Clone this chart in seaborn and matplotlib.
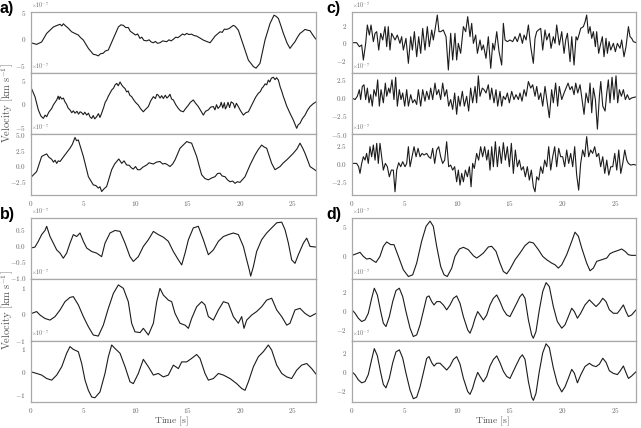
import matplotlib
matplotlib.use("Agg")
import numpy as np
import pandas as pd
import matplotlib.pyplot as plt
import seaborn as sns

# traces: (time [s], velocity [x1e-7 km/s])
SCALE = 1e-7

A1 = [(0.00, -0.75), (0.54, -1.05), (1.02, -0.6), (1.50, 1.0), (2.14, 2.2), (2.50, 2.5),
      (2.78, 2.7), (2.95, 2.4), (3.10, 2.8), (3.25, 2.5), (3.55, 2.0), (3.89, 1.3),
      (4.20, 1.0), (4.53, 0.7), (4.70, 0.3), (5.01, -0.25), (5.49, -1.8), (5.96, -2.9),
      (6.20, -3.0), (6.44, -3.2), (6.65, -2.8), (6.92, -2.7), (7.10, -2.3), (7.40, -2.1),
      (7.88, 0.06), (8.36, 2.2), (8.60, 2.6), (8.84, 2.5), (9.05, 2.1), (9.31, 2.1),
      (9.50, 1.4), (9.79, 1.0), (10.00, 0.7), (10.20, 0.9), (10.43, 0.06), (10.60, 0.3),
      (10.80, -0.3), (11.07, -0.4), (11.30, -0.2), (11.50, -0.6), (11.71, -0.75), (11.90, -0.5),
      (12.10, -0.85), (12.34, -0.75), (12.60, -0.4), (12.98, -0.55), (13.20, -0.2), (13.40, -0.4),
      (13.62, -0.1), (13.85, 0.3), (14.05, 0.2), (14.26, 0.5), (14.50, 0.9), (14.70, 0.7),
      (14.90, 1.0), (15.10, 0.8), (15.37, 0.85), (15.60, 0.6), (15.85, 0.5), (16.20, 0.1),
      (16.49, -0.25), (16.80, -0.5), (17.13, -0.75), (17.35, -0.2), (17.61, 0.5), (18.09, 1.3),
      (18.30, 1.2), (18.50, 1.8), (18.72, 1.75), (18.95, 1.9), (19.15, 2.2), (19.36, 2.5),
      (19.55, 2.3), (19.84, 1.6), (20.32, -1.2), (20.80, -4.0), (21.28, -5.2), (21.53, -5.5),
      (21.91, -4.6), (22.39, -0.25), (22.87, 2.85), (23.25, 4.4), (23.45, 4.2), (23.67, 3.8),
      (23.90, 2.5), (24.15, 1.0), (24.50, -0.8), (24.78, -1.8), (25.00, -1.2), (25.26, -0.55),
      (25.50, 0.3), (25.74, 1.0), (25.95, 1.3), (26.22, 1.75), (26.45, 1.6), (26.70, 1.5),
      (27.00, 0.6), (27.27, -0.1)]

A2 = [(0.00, 3.45), (0.38, 1.5), (0.70, -1.3), (0.95, -2.6), (1.18, -3.1), (1.35, -2.4),
      (1.50, -2.75), (1.70, -1.8), (1.98, -1.0), (2.15, -0.2), (2.30, 0.3), (2.46, 0.8),
      (2.60, 1.6), (2.70, 0.9), (2.78, 1.5), (2.95, 1.0), (3.10, 1.2), (3.25, 0.4),
      (3.40, -0.1), (3.55, -0.9), (3.73, -1.3), (3.90, -1.9), (4.05, -1.5), (4.21, -2.0),
      (4.40, -1.6), (4.55, -2.2), (4.70, -1.7), (4.85, -1.9), (5.00, -2.3), (5.15, -1.8),
      (5.33, -2.4), (5.50, -2.0), (5.65, -2.8), (5.81, -3.1), (5.95, -2.5), (6.10, -3.2),
      (6.28, -2.75), (6.45, -2.1), (6.60, -2.9), (6.76, -2.0), (6.95, -0.8), (7.10, 0.3),
      (7.24, 0.8), (7.40, 1.6), (7.55, 2.2), (7.72, 2.9), (7.90, 3.3), (8.05, 4.0),
      (8.20, 4.3), (8.35, 3.8), (8.52, 4.6), (8.70, 3.9), (8.85, 3.5), (9.00, 3.2),
      (9.15, 2.5), (9.30, 2.7), (9.45, 1.8), (9.63, 1.5), (9.80, 0.9), (10.00, 0.3),
      (10.27, -0.3), (10.50, -1.1), (10.75, -1.7), (10.95, -1.2), (11.23, -0.6), (11.45, 0.6),
      (11.71, 1.5), (11.90, 1.1), (12.05, 2.0), (12.18, 1.8), (12.35, 1.2), (12.50, 1.7),
      (12.66, 1.1), (12.85, 1.8), (13.00, 1.2), (13.14, 1.5), (13.30, 2.0), (13.45, 1.0),
      (13.62, 0.8), (13.85, -0.2), (14.10, -1.0), (14.30, -1.5), (14.58, -1.7), (14.80, -1.0),
      (15.06, -0.3), (15.25, 0.3), (15.53, 0.8), (15.75, 0.1), (16.01, -0.6), (16.25, -1.5),
      (16.49, -2.4), (16.70, -1.6), (16.97, -1.3), (17.20, -0.7), (17.45, -0.6), (17.60, -1.3),
      (17.75, -0.2), (17.90, -1.0), (18.09, -0.5), (18.20, 0.3), (18.35, -0.9), (18.50, 0.2),
      (18.60, -1.1), (18.72, -0.6), (18.85, 0.3), (19.00, -0.8), (19.15, 0.4), (19.36, 0.07),
      (19.50, -0.9), (19.65, 0.1), (19.84, -0.6), (20.05, -1.5), (20.32, -2.4), (20.55, -1.9),
      (20.80, -1.7), (21.05, -0.6), (21.28, 0.4), (21.50, 1.4), (21.75, 2.2), (21.95, 2.6),
      (22.10, 3.3), (22.23, 3.6), (22.40, 4.2), (22.55, 4.0), (22.71, 5.0), (22.85, 4.6),
      (23.00, 5.4), (23.19, 5.6), (23.35, 5.1), (23.50, 5.5), (23.67, 5.0), (23.85, 3.5),
      (24.00, 2.6), (24.15, 1.5), (24.30, 0.6), (24.45, -0.4), (24.63, -1.3), (24.80, -2.1),
      (24.95, -2.8), (25.10, -3.45), (25.25, -4.3), (25.42, -5.2), (25.55, -4.5), (25.74, -4.15),
      (25.95, -3.2), (26.22, -2.4), (26.45, -1.4), (26.70, -0.6), (27.00, 0.0), (27.27, 0.4)]

A3 = [(0.00, -1.8), (0.54, -0.9), (1.02, 1.5), (1.25, 1.7), (1.50, 1.9), (1.70, 1.4),
      (1.98, 1.05), (2.15, 0.6), (2.30, 0.9), (2.46, 0.4), (2.60, 0.8), (2.78, 0.7),
      (3.00, 1.2), (3.25, 1.75), (3.50, 2.3), (3.73, 2.8), (3.95, 3.4), (4.21, 4.5),
      (4.35, 4.0), (4.53, 4.1), (5.01, 1.5), (5.49, -1.7), (5.96, -3.0), (6.20, -3.1),
      (6.44, -3.5), (6.60, -3.3), (6.76, -4.05), (7.00, -3.6), (7.24, -3.25), (7.72, -0.6),
      (8.00, 0.3), (8.20, 0.7), (8.40, 1.1), (8.68, 0.4), (8.90, 0.8), (9.15, 0.15),
      (9.40, 0.1), (9.60, -0.3), (9.79, -0.5), (10.00, -0.1), (10.20, -0.6), (10.43, -0.6),
      (10.70, -0.2), (11.07, 0.15), (11.30, 0.5), (11.71, 0.3), (12.00, 0.6), (12.34, 0.7),
      (12.60, 0.3), (12.82, 0.4), (13.05, 0.2), (13.30, -0.1), (13.55, 0.3), (13.78, 0.95),
      (14.26, 2.8), (14.90, 3.85), (15.15, 3.7), (15.37, 3.6), (15.85, 1.5), (16.33, -1.4),
      (16.65, -2.0), (16.97, -2.2), (17.30, -1.9), (17.61, -1.7), (17.85, -1.2), (18.09, -1.15),
      (18.30, -1.6), (18.56, -1.7), (18.80, -2.2), (19.04, -2.5), (19.30, -2.4), (19.52, -2.75),
      (19.75, -2.5), (20.00, -2.6), (20.48, -1.7), (20.96, 0.15), (21.44, 1.75), (21.75, 2.6),
      (22.07, 3.3), (22.30, 3.0), (22.55, 2.8), (23.03, 0.4), (23.35, -0.6), (23.83, -0.1),
      (24.15, 0.5), (24.47, 0.95), (24.80, 1.5), (25.10, 2.0), (25.45, 2.7), (25.74, 3.6),
      (26.00, 2.8), (26.22, 2.0), (26.70, -0.1), (27.27, -0.75)]

B1 = [(0.00, -0.07), (0.38, -0.04), (0.70, 0.14), (1.02, 0.35), (1.34, 0.48), (1.50, 0.61),
      (1.82, 0.29), (2.14, 0.08), (2.46, -0.13), (2.78, -0.23), (3.09, -0.39), (3.41, -0.23),
      (3.73, 0.08), (4.05, 0.35), (4.37, 0.29), (4.69, 0.40), (5.01, 0.14), (5.33, -0.07),
      (5.81, -0.18), (6.28, -0.23), (6.76, -0.34), (7.08, 0.08), (7.56, 0.40), (8.04, 0.48),
      (8.52, 0.45), (9.00, 0.08), (9.47, -0.34), (9.79, -0.49), (10.27, -0.34), (10.75, -0.02),
      (11.23, 0.19), (11.71, 0.45), (12.18, 0.35), (12.66, 0.27), (13.14, 0.14), (13.62, -0.18),
      (14.10, -0.44), (14.42, -0.60), (14.74, -0.23), (15.06, 0.19), (15.53, 0.56), (16.01, 0.61),
      (16.49, 0.19), (16.97, -0.28), (17.45, -0.13), (17.93, 0.14), (18.41, 0.29), (18.88, 0.35),
      (19.36, 0.40), (19.84, 0.35), (20.32, -0.02), (20.64, -0.44), (20.89, -0.76), (21.02, -0.95),
      (21.28, -0.65), (21.59, -0.18), (22.07, 0.19), (22.55, 0.40), (23.03, 0.56), (23.51, 0.72),
      (23.99, 0.74), (24.31, 0.50), (24.63, 0.08), (24.94, -0.44), (25.26, -0.55), (25.58, -0.28),
      (26.06, 0.08), (26.38, 0.24), (26.70, -0.02), (27.27, -0.04)]

B2 = [(0.00, 0.00), (0.54, 0.08), (0.86, -0.05), (1.34, -0.18), (1.82, -0.24), (2.30, -0.11),
      (2.78, 0.14), (3.25, 0.45), (3.73, 0.61), (4.05, 0.64), (4.53, 0.33), (5.01, -0.11),
      (5.49, -0.49), (5.96, -0.80), (6.44, -0.84), (6.92, -0.43), (7.40, 0.20), (7.88, 0.76),
      (8.36, 1.08), (8.84, 0.95), (9.31, 0.45), (9.63, -0.36), (9.95, -0.68), (10.43, -0.71),
      (10.75, -0.55), (11.23, -0.80), (11.71, -0.36), (12.03, 0.45), (12.34, 0.95), (12.66, 0.70),
      (13.14, 0.51), (13.46, 0.45), (13.78, 0.01), (14.26, -0.36), (14.74, -0.43), (15.06, -0.55),
      (15.37, -0.18), (15.85, 0.26), (16.33, 0.45), (16.65, 0.33), (16.97, -0.11), (17.45, -0.24),
      (17.93, 0.14), (18.41, 0.45), (18.88, 0.39), (19.36, -0.11), (19.84, -0.36), (20.16, -0.11),
      (20.38, -0.55), (20.64, -0.24), (21.12, -0.05), (21.59, 0.08), (22.07, 0.26), (22.55, 0.51),
      (23.03, 0.58), (23.51, 0.14), (23.99, -0.11), (24.47, -0.43), (24.78, -0.36), (25.26, 0.14),
      (25.74, 0.20), (26.22, 0.01), (26.70, -0.11), (27.27, 0.01)]

B3 = [(0.00, 0.00), (0.54, -0.07), (1.02, -0.14), (1.50, -0.29), (1.98, -0.36), (2.46, -0.14),
      (2.94, 0.22), (3.41, 0.80), (3.73, 1.09), (4.05, 0.97), (4.53, 0.87), (4.85, 0.36),
      (5.17, -0.36), (5.49, -0.80), (5.81, -1.09), (6.12, -1.12), (6.60, -0.87), (7.08, -0.07),
      (7.40, 0.65), (7.72, 1.16), (8.04, 1.01), (8.52, 0.80), (9.00, 0.22), (9.47, -0.43),
      (9.79, -0.51), (10.27, -0.07), (10.75, 0.54), (11.23, 0.22), (11.71, -0.14), (12.18, -0.07),
      (12.66, -0.22), (13.14, -0.14), (13.62, 0.29), (14.10, 0.14), (14.42, 0.43), (14.90, 0.43),
      (15.37, 0.58), (15.85, 0.75), (16.17, 0.58), (16.65, -0.07), (16.97, -0.36), (17.45, -0.29),
      (17.93, -0.07), (18.41, -0.14), (19.04, -0.29), (19.68, -0.51), (20.16, -0.72), (20.48, -0.80),
      (20.80, -0.43), (21.28, 0.22), (21.75, 0.65), (22.23, 0.87), (22.71, 1.16), (23.03, 0.94),
      (23.51, 0.29), (23.99, -0.07), (24.47, -0.22), (24.94, -0.29), (25.42, 0.07), (25.90, 0.29),
      (26.38, 0.36), (26.86, 0.14), (27.27, -0.10)]

C1 = [(0.00, 0.00), (0.44, 0.00), (0.70, -0.46), (0.92, -0.27), (1.08, -2.00), (1.30, -0.08),
      (1.46, 2.04), (1.65, 0.88), (1.81, 2.04), (2.03, 0.12), (2.19, 1.08), (2.35, 1.27),
      (2.54, -0.85), (2.73, 1.08), (2.92, 0.31), (3.14, 1.85), (3.30, -0.46), (3.45, 1.85),
      (3.61, -0.85), (3.77, 1.08), (3.93, 0.69), (4.09, 0.31), (4.31, 0.88), (4.56, -0.08),
      (4.72, 0.69), (4.88, -0.85), (5.13, 0.50), (5.36, -2.38), (5.58, 0.69), (5.74, -0.85),
      (5.93, 1.27), (6.15, -1.62), (6.34, 0.69), (6.53, -1.23), (6.72, 1.65), (6.94, -0.85),
      (7.16, 1.85), (7.35, -0.46), (7.58, 1.46), (7.73, 0.31), (7.89, 1.46), (8.11, 3.19),
      (8.27, 1.27), (8.43, 1.27), (8.68, 1.46), (8.94, 0.69), (9.16, -3.15), (9.38, 1.08),
      (9.57, -2.00), (9.79, 1.08), (9.95, -2.00), (10.11, -0.08), (10.33, -1.23), (10.59, 1.85),
      (10.81, 1.27), (11.00, 3.00), (11.22, 0.69), (11.38, 2.23), (11.54, -0.08), (11.76, 0.88),
      (11.92, -1.23), (12.17, 0.31), (12.33, -0.85), (12.49, -0.27), (12.74, -1.81), (12.96, 0.69),
      (13.19, -2.96), (13.38, -0.08), (13.53, -0.85), (13.76, 1.27), (13.98, -1.04), (14.23, -2.58),
      (14.39, 2.23), (14.55, 0.31), (14.77, 0.12), (15.02, 0.31), (15.28, 0.12), (15.50, 0.69),
      (15.72, 0.12), (15.97, 1.08), (16.20, -0.08), (16.36, 0.88), (16.55, 0.31), (16.77, 2.04),
      (16.99, -0.46), (17.24, -2.38), (17.40, 0.50), (17.56, 1.27), (17.72, 1.46), (17.94, 1.65),
      (18.13, -0.85), (18.35, 1.46), (18.51, 0.31), (18.76, 1.08), (18.92, -0.65), (19.14, 0.69),
      (19.30, -0.08), (19.46, 2.04), (19.71, -0.27), (19.94, 1.27), (20.16, -1.23), (20.32, 0.31),
      (20.48, 1.08), (20.73, -2.19), (20.89, 0.69), (21.11, -2.58), (21.30, 0.69), (21.43, 0.31),
      (21.62, 1.08), (21.74, 1.65), (22.00, 1.85), (22.16, 2.42), (22.31, 3.19), (22.47, 1.08),
      (22.63, 1.85), (22.79, 0.50), (22.95, 1.27), (23.14, -0.46), (23.26, 1.27), (23.45, -1.23),
      (23.58, -0.46), (23.80, 0.69), (23.96, -1.62), (24.15, 0.50), (24.28, -1.23), (24.44, 0.12),
      (24.60, -0.85), (24.85, -0.08), (25.04, -1.04), (25.23, -0.08), (25.48, -0.65), (25.64, 0.31),
      (25.86, -1.62), (26.05, -0.46), (26.28, 1.85), (26.43, 0.69), (26.59, 0.50), (26.75, 0.12),
      (27.00, 0.00)]

C2 = [(0.00, 0.00), (0.29, -0.23), (0.51, 0.23), (0.70, 1.14), (0.82, -0.23), (0.98, 1.59),
      (1.14, 1.82), (1.30, -0.23), (1.46, 1.36), (1.62, -0.68), (1.77, 0.45), (1.93, -1.14),
      (2.09, 1.14), (2.28, 0.23), (2.44, 2.50), (2.60, -1.14), (2.76, 1.14), (2.98, -0.68),
      (3.17, 2.05), (3.30, 0.23), (3.49, 1.36), (3.61, 0.68), (3.80, 2.50), (3.99, -0.23),
      (4.15, 2.86), (4.31, -1.14), (4.50, 1.14), (4.66, -0.23), (4.82, 0.68), (5.01, -1.14),
      (5.20, 1.14), (5.36, -1.14), (5.58, 0.45), (5.77, -0.68), (5.96, -0.23), (6.15, -0.91),
      (6.31, 1.14), (6.53, -1.14), (6.72, 1.14), (6.94, -0.45), (7.10, 0.91), (7.32, -0.23),
      (7.48, 1.36), (7.67, -0.23), (7.89, 2.05), (8.05, 0.45), (8.24, 1.14), (8.43, -0.23),
      (8.62, 2.05), (8.81, 0.23), (9.00, 1.14), (9.19, -1.14), (9.38, -0.23), (9.57, -1.59),
      (9.76, 0.68), (9.95, -2.27), (10.11, 0.23), (10.27, -1.14), (10.49, 0.91), (10.68, -1.14),
      (10.90, 0.23), (11.09, -1.82), (11.28, 1.36), (11.47, -0.68), (11.70, 1.59), (11.85, -0.68),
      (12.01, 3.05), (12.17, 0.23), (12.39, 1.36), (12.55, 1.14), (12.74, 0.68), (12.96, 1.82),
      (13.12, -0.23), (13.28, 1.36), (13.50, -0.68), (13.69, 1.14), (13.85, -1.14), (14.07, 0.91),
      (14.23, -1.14), (14.39, 0.23), (14.58, -0.23), (14.77, 0.68), (14.96, -0.68), (15.18, 0.91),
      (15.40, -0.23), (15.59, 0.45), (15.82, -0.23), (15.97, 0.68), (16.16, -0.45), (16.36, 1.14),
      (16.55, 0.23), (16.77, 2.27), (16.99, 1.36), (17.18, 1.82), (17.40, 0.23), (17.56, 1.59),
      (17.75, -0.23), (17.94, 0.68), (18.13, -1.14), (18.35, 1.59), (18.57, -0.68), (18.76, -2.73),
      (18.98, 1.14), (19.14, -0.68), (19.36, 2.05), (19.55, -1.14), (19.71, 1.59), (19.94, -0.23),
      (20.16, 0.68), (20.35, 1.36), (20.54, 2.05), (20.73, 1.14), (20.92, 1.59), (21.11, 0.45),
      (21.27, 2.05), (21.46, 0.68), (21.68, 1.82), (21.87, -0.23), (22.06, -2.27), (22.25, 0.68),
      (22.47, -0.68), (22.63, 2.05), (22.79, -2.05), (22.95, 1.36), (23.14, -0.23), (23.33, -4.32),
      (23.52, 0.23), (23.65, 2.27), (23.84, -1.14), (24.06, -1.82), (24.22, 0.68), (24.37, 2.50),
      (24.53, -0.68), (24.72, 2.86), (24.91, -0.23), (25.10, 3.05), (25.26, -0.68), (25.42, 1.14),
      (25.61, 0.23), (25.80, 1.14), (25.99, -0.23), (26.18, 0.45), (26.37, -0.23), (26.59, 0.00),
      (27.00, 0.14)]

C3 = [(0.00, 0.00), (0.44, 0.00), (0.63, -0.45), (0.76, -1.36), (0.92, 0.00), (1.08, 0.91),
      (1.24, 0.45), (1.39, 1.36), (1.55, 0.00), (1.71, 2.27), (1.87, 0.91), (2.03, 2.50),
      (2.19, 0.45), (2.35, 2.73), (2.50, 0.00), (2.66, 2.73), (2.82, 0.91), (2.98, -0.91),
      (3.17, 0.00), (3.36, -0.45), (3.55, -1.82), (3.74, -0.91), (3.93, -0.91), (4.09, -3.86),
      (4.25, -0.91), (4.44, 0.09), (4.63, -0.45), (4.82, 0.23), (5.04, -0.45), (5.20, 0.00),
      (5.36, 2.27), (5.52, -0.45), (5.71, 0.91), (5.90, 2.27), (6.09, 0.91), (6.28, 2.05),
      (6.47, 0.91), (6.66, 1.36), (6.85, 1.14), (7.10, 1.36), (7.29, 0.91), (7.48, 0.68),
      (7.67, 2.05), (7.86, 0.00), (8.05, 1.82), (8.24, 2.27), (8.43, 0.91), (8.62, 0.00),
      (8.81, 0.45), (9.00, 2.95), (9.19, -0.45), (9.38, -0.23), (9.57, -0.91), (9.76, -0.45),
      (9.95, -2.50), (10.11, -0.91), (10.27, -2.95), (10.43, -1.36), (10.59, -2.50), (10.78, -0.91),
      (10.97, -1.82), (11.16, -0.45), (11.32, -3.18), (11.47, 0.00), (11.63, -0.68), (11.85, 1.36),
      (12.04, 0.45), (12.23, 2.27), (12.42, 0.91), (12.61, 2.27), (12.81, 0.45), (12.96, 1.82),
      (13.12, -0.91), (13.28, 2.27), (13.44, -0.45), (13.63, 2.95), (13.82, -0.45), (14.01, 2.27),
      (14.20, 0.00), (14.39, 2.82), (14.58, 0.45), (14.77, 2.27), (14.96, -0.45), (15.15, 2.73),
      (15.34, -1.36), (15.53, 1.82), (15.72, -0.45), (15.91, 0.45), (16.10, -0.91), (16.29, -0.45),
      (16.48, -1.82), (16.67, -0.45), (16.86, -2.27), (17.05, -0.91), (17.24, -3.18), (17.40, -3.86),
      (17.56, -1.82), (17.75, -2.27), (17.94, -0.45), (18.13, -1.36), (18.32, 0.45), (18.51, -0.45),
      (18.70, 2.27), (18.89, -0.91), (19.08, 0.91), (19.27, 2.27), (19.46, -0.45), (19.65, 2.05),
      (19.84, 0.91), (20.03, 0.91), (20.22, -0.45), (20.41, 1.82), (20.60, 0.00), (20.79, 1.36),
      (20.98, -0.45), (21.17, 2.27), (21.36, -1.59), (21.55, -3.64), (21.74, 0.00), (21.93, 1.82),
      (22.12, 0.91), (22.31, 3.64), (22.50, 0.91), (22.69, 1.82), (22.88, 1.36), (23.07, 2.27),
      (23.26, 0.91), (23.45, 1.36), (23.64, -0.45), (23.84, 0.91), (24.03, -1.36), (24.22, 0.45),
      (24.41, -1.59), (24.60, -0.45), (24.79, -0.45), (24.98, 1.36), (25.17, -0.91), (25.36, 1.82),
      (25.55, -1.36), (25.74, 0.00), (25.93, 1.82), (26.12, 0.45), (26.28, 0.00), (26.50, -0.23),
      (26.75, -0.14), (27.00, -0.23)]

D1 = [(0.00, 0.00), (0.44, 0.29), (0.76, 0.52), (1.08, -0.17), (1.39, -0.63), (1.71, -0.52),
      (1.97, -0.86), (2.28, -1.21), (2.66, -0.17), (2.98, 1.55), (3.30, 2.30), (3.68, 1.84),
      (3.99, 1.84), (4.41, -0.17), (4.88, -2.47), (5.36, -3.62), (5.77, -3.33), (6.15, -1.32),
      (6.62, 2.41), (7.04, 4.97), (7.42, 5.86), (7.73, 4.97), (8.05, 1.55), (8.43, -1.90),
      (8.75, -3.33), (9.06, -3.62), (9.48, -2.18), (9.79, -0.17), (10.21, 1.09), (10.59, 1.38),
      (11.06, 0.98), (11.54, -0.06), (11.85, -0.46), (12.17, -0.06), (12.49, 0.40), (12.96, 1.44),
      (13.28, 1.55), (13.69, 0.69), (14.07, -1.32), (14.39, -2.76), (14.71, -3.16), (15.02, -2.36),
      (15.50, -0.75), (15.97, 0.40), (16.45, 1.67), (16.86, 2.30), (17.24, 2.13), (17.72, 0.98),
      (18.13, -0.17), (18.51, -0.75), (18.98, -1.32), (19.30, -1.61), (19.62, -2.18), (19.94, -1.61),
      (20.41, 0.11), (20.89, 2.41), (21.20, 3.97), (21.52, 3.28), (21.84, 1.26), (22.31, -1.32),
      (22.63, -2.64), (22.95, -2.18), (23.26, -1.03), (23.74, -0.75), (24.22, -0.46), (24.53, 0.29),
      (24.85, 0.57), (25.32, 0.86), (25.64, 1.09), (25.96, 0.69), (26.28, 0.11), (26.59, 0.00),
      (27.00, 0.00)]

D2 = [(0.00, 0.04), (0.29, -0.32), (0.60, -0.84), (0.92, -1.19), (1.24, -1.02), (1.55, -0.32),
      (1.87, 1.26), (2.12, 2.32), (2.41, 1.61), (2.73, -0.14), (2.98, -1.37), (3.23, -1.72),
      (3.55, -0.67), (3.87, 0.91), (4.18, 2.07), (4.50, 2.32), (4.82, 1.44), (5.13, -0.14),
      (5.52, -1.89), (5.83, -2.77), (6.15, -2.60), (6.47, -1.54), (6.85, 0.21), (7.10, 1.37),
      (7.32, 1.51), (7.58, 0.91), (7.80, 0.56), (8.05, 0.91), (8.37, 0.91), (8.68, 0.56),
      (9.00, 0.04), (9.32, 0.56), (9.64, 1.26), (9.95, 1.51), (10.27, 0.74), (10.59, -0.67),
      (11.00, -2.07), (11.22, -2.42), (11.47, -1.72), (11.70, -0.84), (11.95, -0.14), (12.17, -0.49),
      (12.49, -1.02), (12.81, -0.49), (13.12, 0.56), (13.44, 1.26), (13.76, 1.61), (14.07, 0.91),
      (14.39, 0.04), (14.71, -0.49), (15.02, -0.67), (15.34, 0.04), (15.66, 0.74), (15.97, 1.44),
      (16.20, 1.72), (16.45, 1.26), (16.77, -1.02), (17.08, -2.60), (17.24, -2.95), (17.49, -2.25),
      (17.81, 0.04), (18.13, 1.96), (18.45, 2.91), (18.76, 2.49), (19.14, 0.39), (19.52, -1.19),
      (19.94, -1.89), (20.25, -1.54), (20.57, -0.67), (20.89, 0.21), (21.14, -0.14), (21.43, -0.84),
      (21.74, -0.32), (22.15, 0.56), (22.57, 1.09), (22.88, 0.74), (23.20, 0.39), (23.52, 0.74),
      (23.84, 1.26), (24.15, 0.91), (24.47, 0.04), (24.85, -0.32), (25.23, -0.32), (25.48, 0.04),
      (25.80, 0.56), (26.05, -0.14), (26.28, -0.67), (26.59, -0.49), (27.00, 0.04)]

D3 = [(0.00, 0.00), (0.29, -0.32), (0.60, -0.86), (0.92, -1.18), (1.24, -1.05), (1.55, -0.30),
      (1.87, 1.30), (2.12, 2.45), (2.41, 1.70), (2.73, -0.10), (2.98, -1.35), (3.23, -1.71),
      (3.55, -0.70), (3.87, 0.95), (4.18, 2.10), (4.50, 2.32), (4.82, 1.45), (5.13, -0.15),
      (5.52, -1.95), (5.83, -2.86), (6.15, -2.70), (6.47, -1.60), (6.85, 0.20), (7.10, 1.40),
      (7.32, 1.61), (7.58, 0.95), (7.80, 0.60), (8.05, 0.90), (8.37, 0.90), (8.68, 0.55),
      (9.00, 0.18), (9.32, 0.60), (9.64, 1.30), (9.95, 1.60), (10.27, 0.80), (10.59, -0.70),
      (11.00, -2.10), (11.22, -2.40), (11.47, -1.75), (11.70, -0.85), (11.95, -0.07), (12.17, -0.50),
      (12.49, -1.07), (12.81, -0.50), (13.12, 0.60), (13.44, 1.30), (13.76, 1.68), (14.07, 0.95),
      (14.39, 0.05), (14.71, -0.50), (15.02, -0.71), (15.34, 0.05), (15.66, 0.80), (15.97, 1.50),
      (16.20, 1.79), (16.45, 1.30), (16.77, -1.05), (17.08, -2.70), (17.24, -3.04), (17.49, -2.30),
      (17.81, 0.05), (18.13, 2.00), (18.45, 2.96), (18.76, 2.55), (19.14, 0.40), (19.52, -1.25),
      (19.94, -2.14), (20.25, -1.60), (20.57, -0.70), (20.89, 0.25), (21.14, -0.15), (21.43, -1.18),
      (21.74, -0.35), (22.15, 0.55), (22.57, 0.89), (22.88, 0.65), (23.20, 0.54), (23.52, 0.80),
      (23.84, 1.43), (24.15, 1.00), (24.47, 0.10), (24.85, -0.18), (25.23, -0.30), (25.48, 0.05),
      (25.80, 0.61), (26.05, -0.10), (26.28, -0.71), (26.59, -0.45), (27.00, 0.00)]

# axis ranges and ticks (x1e-7) for each trace
YLIM = {
    "A1": (-6.4, 5.0), "A2": (-6.4, 6.5), "A3": (-4.6, 5.05),
    "B1": (-1.05, 0.87), "B2": (-1.01, 1.29), "B3": (-1.3, 1.35),
    "C1": (-3.5, 3.54), "C2": (-4.9, 3.45), "C3": (-4.3, 4.0),
    "D1": (-4.1, 6.4), "D2": (-3.2, 3.26), "D3": (-3.2, 3.3),
}
YTICKS = {
    "A1": [-5, 0, 5], "A2": [-5, 0, 5], "A3": [-2.5, 0, 2.5, 5],
    "B1": [-1, -0.5, 0, 0.5], "B2": [-1, 0, 1], "B3": [-1, 0, 1],
    "C1": [-2, 0, 2], "C2": [-5, -2.5, 0, 2.5], "C3": [-2.5, 0, 2.5],
    "D1": [0, 5], "D2": [-2, 0, 2], "D3": [-2, 0, 2],
}
TRACES = {"A1": A1, "A2": A2, "A3": A3, "B1": B1, "B2": B2, "B3": B3,
          "C1": C1, "C2": C2, "C3": C3, "D1": D1, "D2": D2, "D3": D3}

# panel layout in pixels: label, trace keys, left, top, width, row height, label position
W, H = 641, 428
PANELS = [
    ("a)", ["A1", "A2", "A3"], 31, 12, 285, 61.0, (0, 1)),
    ("b)", ["B1", "B2", "B3"], 31, 218, 285, 61.3, (0, 207)),
    ("c)", ["C1", "C2", "C3"], 352, 12, 284, 61.0, (326, 1)),
    ("d)", ["D1", "D2", "D3"], 352, 218, 284, 61.3, (326, 207)),
]

sns.set_theme(style="white")
plt.rcParams.update({
    "font.family": "serif",
    "font.serif": ["cmr10"],
    "mathtext.fontset": "cm",
    "axes.formatter.use_mathtext": True,
    "axes.unicode_minus": True,
})

LINE = "#1c1c1c"
GREY = "#666666"
SPINE = "#a8a8a8"

fig = plt.figure(figsize=(W / 100, H / 100), dpi=100)

for label, keys, left, top, width, rowh, lab_pos in PANELS:
    axes = []
    for i, key in enumerate(keys):
        y0 = top + i * rowh
        ax = fig.add_axes([left / W, 1 - (y0 + rowh) / H, width / W, rowh / H],
                          sharex=axes[0] if axes else None)
        df = pd.DataFrame(TRACES[key], columns=["t", "v"])
        df["v"] = df["v"] * SCALE
        sns.lineplot(data=df, x="t", y="v", ax=ax, color=LINE, linewidth=0.8)
        ax.set_xlim(0, df["t"].iloc[-1])
        ax.set_ylim(YLIM[key][0] * SCALE, YLIM[key][1] * SCALE)
        ax.set_yticks(np.array(YTICKS[key]) * SCALE)
        ax.set_xlabel("")
        ax.set_ylabel("")
        for s in ax.spines.values():
            s.set_color(SPINE)
            s.set_linewidth(0.9)
        ax.tick_params(axis="both", labelsize=5.2, colors=GREY, length=2, width=0.5, pad=1.5)
        ax.tick_params(axis="x", pad=1.0)
        ax.yaxis.get_offset_text().set_fontsize(4.3)
        ax.yaxis.get_offset_text().set_color(GREY)
        if i < 2:
            ax.tick_params(axis="x", labelbottom=False, length=0)
        axes.append(ax)
    axes[-1].set_xticks([0, 5, 10, 15, 20, 25])
    fig.text(lab_pos[0] / W, 1 - lab_pos[1] / H, label, fontsize=11.5, fontweight="bold",
             family="Liberation Sans", ha="left", va="top", color="black")

for yc in [(12 + 195) / 2, (218 + 402) / 2]:
    fig.text(7.5 / W, 1 - yc / H, r"$\mathrm{Velocity\ [km\ s^{-1}]}$", rotation=90,
             ha="center", va="center", fontsize=7.6, color="#555555")
for xc in [171, 492]:
    fig.text(xc / W, 1 - 427.5 / H, r"$\mathrm{Time\ [s]}$", ha="center", va="bottom",
             fontsize=7.0, color="#555555")

fig.savefig("out.png", dpi=100)
